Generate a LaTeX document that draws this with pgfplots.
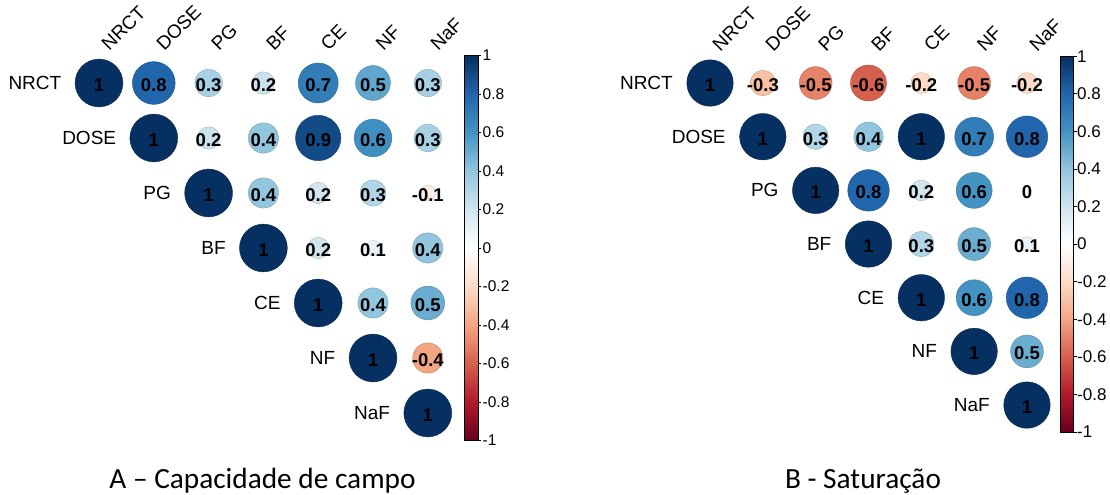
\documentclass[border=0pt]{standalone}
\usepackage{pgfplots}
\usepackage{pgfplotstable}
\pgfplotsset{compat=1.18}
\usepackage{fontspec}
\setmainfont{Liberation Sans}
\newfontfamily\capfont{Carlito}

\pgfplotsset{
  colormap={rdbu}{rgb255=(103,0,31) rgb255=(178,24,43) rgb255=(214,96,77) rgb255=(244,165,130) rgb255=(253,219,199) rgb255=(255,255,255) rgb255=(209,229,240) rgb255=(146,197,222) rgb255=(67,147,195) rgb255=(33,102,172) rgb255=(5,48,97)},
  corr/.style={
    scale only axis, clip=false,
    xmin=-0.5, xmax=6.5, ymin=-6.5, ymax=0.5,
    axis line style={draw=none},
    major tick length=0pt,
    xtick={0,1,2,3,4,5,6}, ytick=\empty,
    xticklabels={NRCT,DOSE,PG,BF,CE,NF,NaF},
    xticklabel pos=upper,
    xticklabel style={rotate=45, anchor=south west, font=\fontsize{19bp}{20bp}\selectfont, inner sep=0pt, xshift=10bp, yshift=-5bp},
    colormap name=rdbu,
    point meta min=-1, point meta max=1,
    colorbar,
    colorbar style={
      at={(parent axis.north east)}, anchor=north west,
      scale only axis, width=14bp,
      ytick={-1,-0.8,-0.6,-0.4,-0.2,0,0.2,0.4,0.6,0.8,1},
      xtick=\empty,
      ytick align=outside, major tick length=3bp,
      ytick pos=right, yticklabel pos=right,
      axis line style={draw=black, line width=0.8bp},
      every tick/.style={black, line width=0.6bp},
      yticklabel style={font=\fontsize{15.5bp}{17bp}\selectfont, /pgf/number format/assume math mode=true, inner sep=1.5bp},
    },
  },
  circles/.style={scatter, only marks, mark=*,
    point meta=\thisrow{v},
    visualization depends on={#1*sqrt(abs(\thisrow{v})) \as \msz},
    scatter/@pre marker code/.append style={/tikz/mark size=\msz},
  },
  numbers/.style={only marks, mark=none,
    point meta=\thisrow{v},
    nodes near coords={\pgfmathprintnumber[fixed,precision=1,assume math mode=true]{\pgfplotspointmeta}},
    every node near coord/.append style={anchor=center, text=black, font=\bfseries\fontsize{18.5bp}{20bp}\selectfont, yshift=-2bp},
  },
  rowlabels/.style={only marks, mark=none, point meta=explicit symbolic,
    nodes near coords,
    every node near coord/.append style={anchor=east, inner sep=0pt, xshift=-#1, text=black, font=\fontsize{19bp}{20bp}\selectfont},
  },
}

\pgfplotstableread{
c r v
0 0 1
1 0 0.8
2 0 0.33
3 0 0.22
4 0 0.7
5 0 0.53
6 0 0.33
1 1 1
2 1 0.22
3 1 0.4
4 1 0.9
5 1 0.62
6 1 0.33
2 2 1
3 2 0.4
4 2 0.2
5 2 0.3
6 2 -0.1
3 3 1
4 3 0.2
5 3 0.1
6 3 0.4
4 4 1
5 4 0.4
6 4 0.5
5 5 1
6 5 -0.4
6 6 1
}\dataA

\pgfplotstableread{
c r v
0 0 1
1 0 -0.3
2 0 -0.5
3 0 -0.6
4 0 -0.2
5 0 -0.5
6 0 -0.2
1 1 1
2 1 0.3
3 1 0.4
4 1 1
5 1 0.7
6 1 0.8
2 2 1
3 2 0.8
4 2 0.2
5 2 0.6
6 2 0
3 3 1
4 3 0.3
5 3 0.5
6 3 0.1
4 4 1
5 4 0.6
6 4 0.8
5 5 1
6 5 0.5
6 6 1
}\dataB

\pgfplotstableread{
c r lab
0 0 NRCT
1 1 DOSE
2 2 PG
3 3 BF
4 4 CE
5 5 NF
6 6 NaF
}\labs

\begin{document}
\begin{tikzpicture}
\path[use as bounding box] (0,0) rectangle (1110bp,-495bp);

% ---------- A ----------
\begin{axis}[corr, at={(71.6bp,-55.5bp)}, anchor=north west,
  width=383.6bp, height=385bp,
  colorbar style={xshift=0.3bp}]
\addplot[circles=24] table[x=c, y expr=-\thisrow{r}] {\dataA};
\addplot[numbers] table[x=c, y expr=-\thisrow{r}] {\dataA};
\addplot[rowlabels=37.5bp] table[x=c, y expr=-\thisrow{r}, meta=lab] {\labs};
\end{axis}

% ---------- B ----------
\begin{axis}[corr, at={(683.6bp,-56.2bp)}, anchor=north west,
  width=369.8bp, height=375.7bp,
  colorbar style={xshift=-1.4bp, width=13bp,
    yticklabel style={font=\fontsize{17bp}{18bp}\selectfont, inner sep=0.5bp}}]
\addplot[circles=23.3] table[x=c, y expr=-\thisrow{r}] {\dataB};
\addplot[numbers] table[x=c, y expr=-\thisrow{r}] {\dataB};
\addplot[rowlabels=37bp] table[x=c, y expr=-\thisrow{r}, meta=lab] {\labs};
\end{axis}

\node[anchor=base, font=\capfont\fontsize{29.3bp}{31bp}\selectfont] at (262.5bp,-488bp) {A – Capacidade de campo};
\node[anchor=base, font=\capfont\fontsize{29.3bp}{31bp}\selectfont] at (863bp,-488bp) {B - Saturação};
\end{tikzpicture}
\end{document}
